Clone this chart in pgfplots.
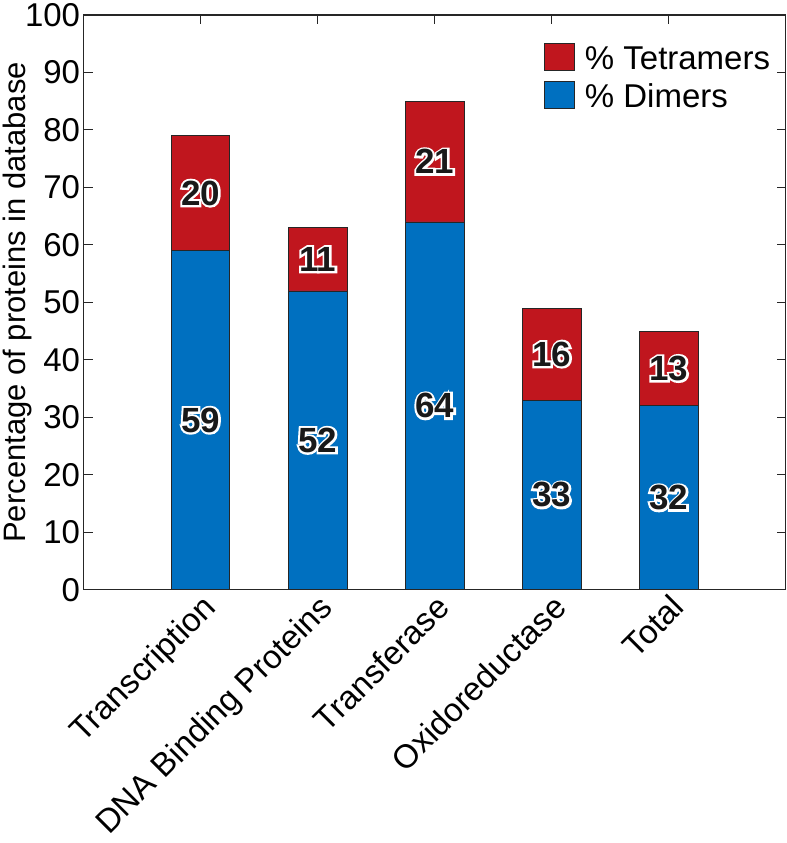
\documentclass[border=0pt]{standalone}
\usepackage{pgfplots}
\pgfplotsset{compat=1.18}
\usepackage{fontspec}
\setmainfont{Liberation Sans}
\newfontfamily\halofont[FakeBold=12]{Liberation Sans Bold}
\definecolor{tred}{RGB}{192,22,30}
\definecolor{dblue}{RGB}{0,112,192}
\newcommand{\halo}[1]{\makebox[0pt][l]{\halofont\color{white}#1}{\bfseries #1}}
\begin{document}
\begin{tikzpicture}
\begin{axis}[
  scale only axis, width=700bp, height=573bp,
  xmin=0, xmax=6, ymin=0, ymax=100,
  xtick={1,2,3,4,5},
  xticklabels={Transcription, DNA Binding Proteins, Transferase, Oxidoreductase, Total},
  x tick label style={rotate=45, anchor=north east, font=\fontsize{33}{35}\selectfont, inner sep=2pt},
  ytick={0,10,...,100},
  y tick label style={font=\fontsize{33}{35}\selectfont},
  /pgf/number format/assume math mode=true,
  ylabel={Percentage of proteins in database},
  ylabel style={font=\fontsize{31}{33}\selectfont, yshift=-14bp},
  tick align=inside, major tick length=9bp,
  tick style={black!85, line width=1pt},
  axis line style={black!85, line width=1.2pt},
  legend style={at={(0.985,0.955)}, anchor=north east, draw=none, fill=none,
    font=\fontsize{33}{35}\selectfont, row sep=8bp},
  legend cell align=left,
  legend image code/.code={\draw[#1, draw=black!85, line width=0.8pt] (0bp,-12bp) rectangle (30bp,15bp);
    \path (38bp,0bp);},
]
\addplot[ybar, bar width=0.5, bar shift=0pt, fill=tred, draw=black!85, line width=0.8pt]
  coordinates {(1,79) (2,63) (3,85) (4,49) (5,45)};
\addlegendentry{\% Tetramers}
\addplot[ybar, bar width=0.5, bar shift=0pt, fill=dblue, draw=black!85, line width=0.8pt]
  coordinates {(1,59) (2,52) (3,64) (4,33) (5,32)};
\addlegendentry{\% Dimers}
\addplot[draw=none, mark=none, forget plot, point meta=explicit symbolic,
  nodes near coords={\halo{\pgfplotspointmeta}},
  every node near coord/.style={anchor=center, text=black!90, font=\fontsize{35}{37}\selectfont}]
  coordinates {(1,29.5)[59] (2,26)[52] (3,32)[64] (4,16.5)[33] (5,16)[32]
               (1,69)[20] (2,57.5)[11] (3,74.5)[21] (4,41)[16] (5,38.5)[13]};
\end{axis}
\end{tikzpicture}
\end{document}
